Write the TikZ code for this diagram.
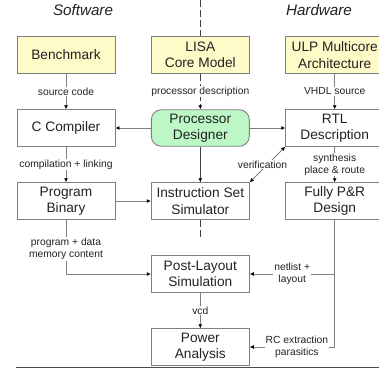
\documentclass[tikz,border=0pt]{standalone}
\usepackage{fontspec}
\setmainfont{Liberation Sans}
\usetikzlibrary{arrows.meta}
\definecolor{edgegray}{HTML}{7F7F7F}
\definecolor{boxyellow}{HTML}{FFFBC9}
\definecolor{boxgreen}{HTML}{BDF7C6}
\definecolor{textgray}{HTML}{222222}
\tikzset{
  x=1pt,y=-1pt,
  basebox/.style={draw=edgegray,line width=0.9pt,minimum width=98pt,minimum height=36.5pt,inner sep=0pt,align=center,font=\fontsize{13.7}{16.5}\selectfont,text=textgray},
  plainbox/.style={basebox,fill=white},
  inputbox/.style={basebox,fill=boxyellow},
  toolbox/.style={basebox,fill=boxgreen,rounded corners=10pt},
  heading/.style={font=\fontsize{15.2}{18}\selectfont\itshape,text=textgray},
  lbl/.style={fill=white,inner sep=1pt,align=center,font=\fontsize{10.3}{12.2}\selectfont,text=textgray},
  conn/.style={draw=edgegray,line width=0.8pt,-{Latex[length=4pt,width=4pt,black]}},
  flowdash/.style={draw=black!75,line width=0.7pt,dash pattern=on 7pt off 3pt},
}
\begin{document}
\begin{tikzpicture}
\useasboundingbox (0,0) rectangle (379,372);
\clip (0,0) rectangle (379,372);
\node[heading] (sw) at (83,10.5) {Software};
\node[heading] (hw) at (319,10.5) {Hardware};
\coordinate (dashtop) at (200.3,0);
\coordinate (dashend) at (200.3,238);
\coordinate (rc) at (334.7,347);
\coordinate (nl) at (334.7,274);
\coordinate (ruleL) at (16,367);
\coordinate (ruleR) at (379,367);
\node[inputbox] (bench) at (66,55) {Benchmark};
\node[inputbox] (lisa) at (200.3,55) {LISA\\Core Model};
\node[inputbox] (ulp) at (334.7,55) {ULP Multicore\\Architecture};
\node[plainbox] (cc) at (66,128) {C Compiler};
\node[toolbox] (pd) at (200.3,128) {Processor\\Designer};
\node[plainbox] (rtl) at (334.7,128) {RTL\\Description};
\node[plainbox] (bin) at (66,201) {Program\\Binary};
\node[plainbox] (iss) at (200.3,201) {Instruction Set\\Simulator};
\node[plainbox] (pr) at (334.7,201) {Fully P\&R\\Design};
\node[plainbox] (pls) at (200.3,274) {Post-Layout\\Simulation};
\node[plainbox] (pa) at (200.3,347) {Power\\Analysis};
\draw[flowdash] (dashtop) -- (lisa.north);
\draw[flowdash] (iss.south) -- (dashend);
\draw[conn] (bench) -- node[lbl,pos=.5] (l1) {source code} (cc);
\draw[conn] (cc) -- node[lbl,pos=.5] (l2) {compilation + linking} (bin);
\draw[conn,dash pattern=on 7pt off 3pt,draw=black!75] (lisa) -- node[lbl,pos=.5] (l3) {processor description} (pd);
\draw[conn,draw=black!75] (pd) -- (iss);
\draw[conn] (pd) -- (cc);
\draw[conn] (pd) -- (rtl);
\draw[conn] (ulp) -- node[lbl,pos=.5] (l4) {VHDL source} (rtl);
\draw[conn] (rtl) -- node[lbl,pos=.5] (l5) {synthesis\\place \& route} (pr);
\draw[conn,{Latex[length=4pt,width=4pt,black]}-{Latex[length=4pt,width=4pt,black]}] (iss.north east) -- node[lbl,pos=.5,xshift=-5pt] (l6) {verification} (rtl.south west);
\draw[conn] (bin) -- (iss);
\draw[conn] (bin.south) |- node[lbl,pos=.27] (l7) {program + data\\memory content} (pls.west);
\draw[conn] (pls) -- node[lbl,pos=.5] (l8) {vcd} (pa);
\draw[draw=edgegray,line width=0.8pt] (pr.south) -- (rc);
\draw[conn] (nl) -- node[lbl,pos=.5] (l9) {netlist +\\layout} (pls.east);
\draw[conn] (rc) -- node[lbl,pos=.445] (l10) {RC extraction\\parasitics} (pa.east);
\draw[draw=black!70,line width=1pt] (ruleL) -- (ruleR);
\end{tikzpicture}
\end{document}
